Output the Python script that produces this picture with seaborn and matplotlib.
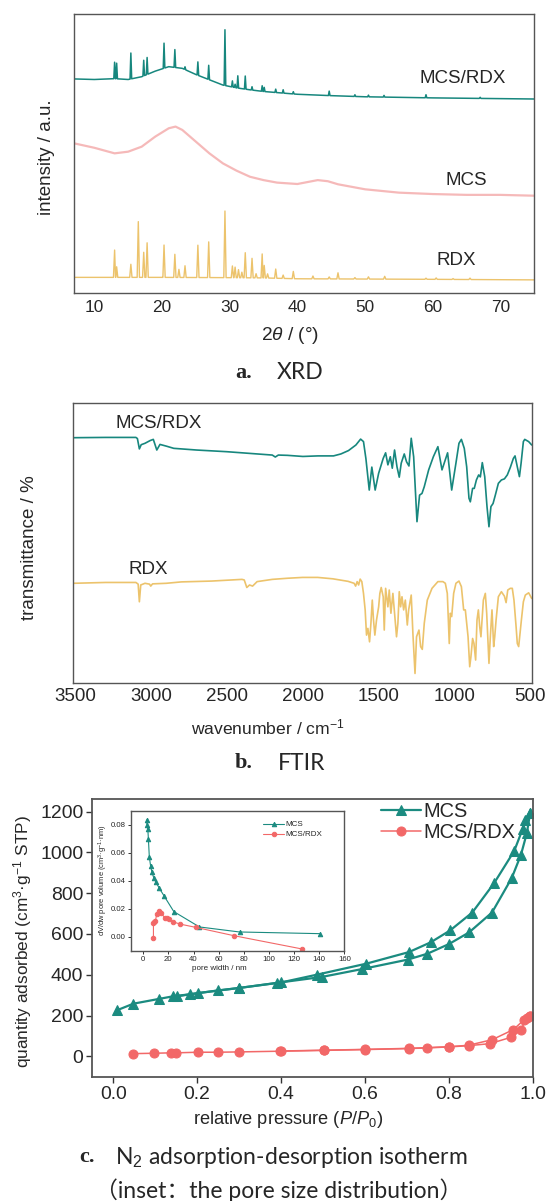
import numpy as np
import matplotlib
matplotlib.use('Agg')
import matplotlib.pyplot as plt
from matplotlib import font_manager as fm
import seaborn as sns

# ---------------- data ----------------
# a. XRD (arbitrary intensity units, stacked)
xrd_mcs_x = [7, 10, 13, 15, 17, 19, 21, 22, 23, 25, 27, 29, 31, 33, 35, 37, 40, 43, 44.5, 46, 50, 55, 60, 65, 70, 75]
xrd_mcs_y = [53.6, 52.0, 50.0, 50.6, 52.4, 56.0, 59.0, 59.6, 58.4, 54.2, 50.0, 46.4, 43.8, 41.6, 40.4, 39.5, 39.0, 40.4, 40.0, 38.9, 37.1, 35.9, 35.4, 35.1, 35.1, 34.8]

xrd_comp_base_x = [7, 10, 13, 15, 17, 19, 21, 23, 25, 27, 29, 31, 33, 35, 38, 40, 45, 50, 60, 75]
xrd_comp_base_y = [76.7, 76.5, 76.8, 76.5, 77.5, 79.5, 81.1, 80.5, 78.3, 76.4, 74.5, 73.5, 72.8, 72.2, 71.6, 71.2, 70.7, 70.3, 69.9, 69.5]
xrd_comp_pk = [13.0, 13.3, 15.4, 17.3, 17.8, 20.3, 21.9, 23.4, 25.3, 26.9, 29.3, 30.4, 30.8, 31.2, 32.3, 33.3,
               34.8, 35.1, 36.8, 37.9, 39.4, 44.7, 48.5, 50.5, 52.8, 59.0, 67.0]
xrd_comp_h = [5.9, 5.6, 9.3, 5.6, 6.1, 9.0, 6.4, 1.0, 4.8, 5.1, 20.0, 2.2, 1.2, 4.4, 4.7, 1.2,
              2.0, 1.5, 1.2, 1.2, 0.8, 1.6, 0.6, 0.6, 0.6, 1.1, 0.4]

xrd_rdx_base_x = [7, 12, 20, 30, 35, 40, 50, 60, 75]
xrd_rdx_base_y = [5.5, 5.5, 5.5, 5.4, 5.3, 5.0, 4.9, 4.8, 4.6]
xrd_rdx_pk = [13.0, 13.3, 15.4, 16.5, 17.3, 17.8, 20.3, 21.9, 22.5, 23.4, 25.3, 26.9, 29.3, 30.4, 30.8, 31.3,
              31.8, 32.3, 33.3, 33.9, 34.8, 35.1, 35.6, 36.8, 37.9, 39.4, 42.3, 44.7, 46.0, 48.5, 50.5, 52.9,
              59.0, 60.5, 63.0, 65.5]
xrd_rdx_h = [9.8, 3.8, 4.7, 20.0, 9.0, 12.4, 11.6, 8.3, 2.9, 4.2, 11.6, 12.8, 23.9, 4.2, 3.8, 2.9,
             2.0, 9.0, 7.0, 1.5, 8.6, 4.5, 1.5, 3.3, 1.2, 2.6, 1.0, 0.7, 2.2, 0.5, 0.8, 1.0,
             0.4, 0.5, 0.3, 0.5]

# b. FTIR (arbitrary transmittance units, stacked)
ir_comp_wn = [3513, 3300, 3100, 3090, 3077, 3065, 3040, 3005, 2985, 2962,
              2941, 2900, 2850, 2700, 2500, 2300, 2200, 2180, 2160, 2100,
              1998, 1899, 1796, 1747, 1697, 1648, 1617, 1598, 1582, 1560,
              1543, 1521, 1498, 1468, 1452, 1437, 1421, 1408, 1393, 1377,
              1362, 1349, 1329, 1314, 1298, 1283, 1267, 1245, 1228, 1212,
              1197, 1168, 1137, 1107, 1080, 1043, 1016, 988, 968, 952,
              933, 917, 902, 893, 878, 867, 853, 838, 827, 814,
              798, 783, 770, 757, 743, 728, 708, 688, 668, 649,
              629, 609, 598, 583, 569, 558, 543, 534, 508, 488]
ir_comp_t = [87.5, 87.6, 87.6, 87.2, 83.5, 85.0, 85.5, 86.5, 86.9, 83.1,
             85.1, 84.5, 83.7, 83.1, 82.5, 81.7, 81.3, 80.6, 81.3, 81.2,
             80.8, 81.0, 81.0, 81.7, 82.9, 84.9, 87.0, 86.1, 80.0, 68.8,
             77.0, 68.8, 74.8, 80.1, 82.1, 77.8, 80.7, 76.6, 83.1, 77.1,
             73.4, 78.4, 81.7, 78.9, 77.4, 87.3, 80.7, 57.5, 67.0, 67.6,
             70.0, 76.0, 80.7, 84.3, 76.0, 82.1, 68.8, 78.4, 85.5, 86.9,
             83.7, 77.1, 65.9, 64.6, 69.4, 69.4, 72.4, 74.2, 73.5, 78.6,
             73.6, 62.9, 55.7, 62.9, 64.0, 67.0, 71.2, 72.4, 72.8, 74.2,
             76.9, 80.1, 81.0, 77.1, 73.6, 78.4, 86.1, 86.9, 86.1, 84.9]

ir_rdx_wn = [3513, 3300, 3100, 3085, 3077, 3068, 3040, 3010, 3002, 2990,
             2900, 2800, 2600, 2400, 2385, 2368, 2350, 2330, 2300, 2200,
             2100, 2000, 1900, 1800, 1700, 1660, 1650, 1640, 1630, 1620,
             1609, 1598, 1587, 1578, 1569, 1558, 1549, 1540, 1532, 1523,
             1512, 1498, 1490, 1481, 1468, 1461, 1452, 1437, 1428, 1417,
             1404, 1380, 1371, 1362, 1353, 1344, 1333, 1322, 1309, 1300,
             1283, 1272, 1258, 1248, 1232, 1221, 1210, 1197, 1177, 1146,
             1107, 1074, 1058, 1045, 1032, 1025, 1016, 1003, 988, 968,
             952, 937, 926, 908, 897, 889, 878, 869, 858, 849,
             840, 831, 823, 807, 794, 785, 770, 761, 750, 739,
             732, 723, 708, 688, 668, 657, 646, 629, 616, 605,
             591, 583, 574, 565, 556, 543, 530, 508, 488]
ir_rdx_t = [35.5, 35.8, 35.8, 35.2, 28.9, 34.9, 35.5, 35.2, 34.5, 35.3,
            35.5, 36.0, 36.3, 36.9, 36.7, 34.0, 34.9, 34.5, 36.1, 36.9,
            37.3, 37.6, 37.6, 37.1, 36.2, 35.5, 34.5, 36.1, 34.9, 37.0,
            36.1, 31.9, 26.0, 17.0, 19.4, 14.6, 21.2, 29.5, 22.4, 17.0,
            22.4, 27.1, 31.9, 34.0, 30.7, 18.8, 33.7, 27.1, 33.1, 24.8,
            31.9, 16.4, 21.2, 32.5, 27.1, 30.7, 26.0, 29.5, 20.6, 26.0,
            31.3, 17.6, 3.3, 16.4, 18.8, 12.9, 11.9, 21.2, 29.5, 33.7,
            36.1, 36.1, 35.5, 31.9, 14.0, 24.8, 23.6, 31.9, 35.5, 36.3,
            34.3, 26.0, 26.0, 16.4, 5.7, 9.3, 15.8, 14.0, 8.1, 22.4,
            26.0, 20.0, 16.4, 29.5, 31.9, 24.8, 6.9, 16.4, 26.0, 12.9,
            16.4, 22.4, 30.7, 32.5, 30.9, 28.6, 33.1, 33.7, 33.7, 29.5,
            20.0, 14.0, 12.9, 17.6, 22.4, 28.9, 31.3, 32.1, 30.1]

# c. N2 isotherms
mcs_ads_p = [0.008, 0.048, 0.108, 0.142, 0.182, 0.25, 0.30, 0.39, 0.497, 0.594, 0.702, 0.749, 0.80, 0.848, 0.903, 0.950, 0.972, 0.986, 0.994]
mcs_ads_q = [225, 258, 281, 294, 304, 323, 335, 360, 389, 428, 474, 503, 550, 607, 705, 874, 988, 1094, 1195]
mcs_des_p = [0.994, 0.982, 0.976, 0.956, 0.908, 0.856, 0.803, 0.757, 0.705, 0.603, 0.485, 0.40, 0.30, 0.202, 0.152]
mcs_des_q = [1195, 1159, 1114, 1007, 849, 705, 617, 559, 511, 454, 400, 362, 335, 310, 294]
comp_ads_p = [0.046, 0.098, 0.138, 0.150, 0.202, 0.25, 0.30, 0.397, 0.503, 0.601, 0.705, 0.749, 0.80, 0.847, 0.898, 0.948, 0.972, 0.986, 0.994]
comp_ads_q = [13, 15, 17, 17, 20, 20, 21.5, 25, 29, 33, 38, 41, 46, 52, 62, 93, 131, 188, 199]
comp_des_p = [0.994, 0.980, 0.954, 0.904, 0.847, 0.80, 0.705, 0.601, 0.503, 0.40]
comp_des_q = [199, 180, 131, 82, 54, 47, 39, 34, 30, 26]

# inset: pore size distribution
psd_mcs_w = [2.6, 3.0, 3.6, 4.1, 4.8, 5.8, 6.8, 8.4, 10.0, 12.5, 16.5, 24.3, 44.7, 76.6, 140.4]
psd_mcs_v = [0.0836, 0.0800, 0.0774, 0.0697, 0.0574, 0.0509, 0.0466, 0.0420, 0.0392, 0.0351, 0.0293, 0.0180, 0.0070, 0.0034, 0.0022]
psd_comp_w = [8.1, 8.1, 8.5, 9.6, 10.7, 12.5, 14.4, 17.0, 18.6, 20.4, 23.5, 29.0, 41.8, 72.4, 126.0]
psd_comp_v = [-0.0012, 0.0096, 0.0108, 0.0110, 0.0161, 0.0185, 0.0168, 0.0137, 0.0132, 0.0125, 0.0108, 0.0091, 0.0067, 0.0007, -0.0087]

# ---------------- style ----------------
sns.set_theme(style='white')
names = {f.name for f in fm.fontManager.ttflist}
NARROW = 'Liberation Sans Narrow' if 'Liberation Sans Narrow' in names else 'Liberation Sans'
k = 1.0 if NARROW == 'Liberation Sans Narrow' else 0.9
plt.rcParams['font.family'] = [NARROW, 'DejaVu Sans']
plt.rcParams['mathtext.fontset'] = 'custom'
plt.rcParams['mathtext.rm'] = NARROW
plt.rcParams['mathtext.it'] = NARROW + ':italic'
plt.rcParams['mathtext.bf'] = NARROW + ':bold'

TEAL = '#17877e'
PINK = '#f29c9c'
YELLOW = '#ecc36c'
TEAL_C = '#1b8b80'
RED_C = '#f26868'
SPINE = '#555555'

W, H = 550, 1201
fig = plt.figure(figsize=(W / 100, H / 100), dpi=100)


def add_axes(l, t, r, b):
    return fig.add_axes([l / W, 1 - b / H, (r - l) / W, (b - t) / H])


def ftext(x, y, s, **kw):
    kw.setdefault('ha', 'center')
    kw.setdefault('va', 'center')
    fig.text(x / W, 1 - y / H, s, **kw)


def stick_trace(bx, by, pk, ph, w):
    # baseline points plus a narrow triangle for each reflection
    bx = np.asarray(bx, float)
    by = np.asarray(by, float)
    keep = [all(abs(x - p) > w for p in pk) for x in bx]
    xs = list(bx[keep])
    ys = list(by[keep])
    for p, h in zip(pk, ph):
        for dx, dh in ((-w, 0), (0, h), (w, 0)):
            xs.append(p + dx)
            ys.append(np.interp(p + dx, bx, by) + dh)
    order = np.argsort(xs, kind='stable')
    return np.array(xs)[order], np.array(ys)[order]


def frame(ax, lw=1.0):
    for s in ax.spines.values():
        s.set_visible(True)
        s.set_color(SPINE)
        s.set_linewidth(lw)


# ---------------- a. XRD ----------------
ax = add_axes(74, 14, 534.3, 292.7)
x, y = stick_trace(xrd_comp_base_x, xrd_comp_base_y, xrd_comp_pk, xrd_comp_h, 0.12)
sns.lineplot(x=x, y=y, ax=ax, color=TEAL, lw=1.1, estimator=None, sort=False)
sns.lineplot(x=xrd_mcs_x, y=xrd_mcs_y, ax=ax, color=PINK, lw=1.6, alpha=0.7, estimator=None, sort=False)
x, y = stick_trace(xrd_rdx_base_x, xrd_rdx_base_y, xrd_rdx_pk, xrd_rdx_h, 0.17)
sns.lineplot(x=x, y=y, ax=ax, color=YELLOW, lw=1.0, estimator=None, sort=False)
ax.set_xlim(7, 75)
ax.set_ylim(0, 100)
ax.set_xticks(range(10, 71, 10))
ax.set_yticks([])
ax.set_xlabel('')
ax.set_ylabel('')
ax.tick_params(axis='x', direction='in', length=3, width=0.8, color=SPINE, labelsize=13.8 * k, pad=5)
frame(ax)
ax.text(64.4, 76.9, 'MCS/RDX', ha='center', va='center', fontsize=15.0 * k)
ax.text(65.0, 40.4, 'MCS', ha='center', va='center', fontsize=15.0 * k)
ax.text(63.5, 11.4, 'RDX', ha='center', va='center', fontsize=15.0 * k)
ftext(46.7, 157, 'intensity / a.u.', rotation=90, fontsize=15.0 * k)
ftext(290, 336, '2$\\theta$ / (°)', fontsize=15.3 * k)
ftext(235, 373, 'a.', ha='left', family='Liberation Serif', weight='bold', fontsize=16)
ftext(277, 373, 'XRD', ha='left', family='Lato', fontsize=16.5)

# ---------------- b. FTIR ----------------
ax = add_axes(73.3, 402.7, 531.7, 682.7)
sns.lineplot(x=ir_comp_wn, y=ir_comp_t, ax=ax, color=TEAL, lw=1.2, estimator=None, sort=False)
sns.lineplot(x=ir_rdx_wn, y=ir_rdx_t, ax=ax, color=YELLOW, lw=1.2, estimator=None, sort=False)
ax.set_xlim(3513, 488)
ax.set_ylim(0, 100)
ax.set_xticks([3500, 3000, 2500, 2000, 1500, 1000, 500])
ax.set_yticks([])
ax.set_xlabel('')
ax.set_ylabel('')
ax.tick_params(axis='x', direction='in', length=3, width=0.8, color=SPINE, labelsize=15 * k, pad=4)
frame(ax)
ax.text(2952, 92.6, 'MCS/RDX', ha='center', va='center', fontsize=15.0 * k)
ax.text(3018, 40.5, 'RDX', ha='center', va='center', fontsize=15.0 * k)
ftext(29.3, 548, 'transmittance / %', rotation=90, fontsize=15.0 * k)
ftext(268, 727, 'wavenumber / cm$^{-1}$', fontsize=14.0 * k)
ftext(235, 763, 'b.', ha='left', family='Liberation Serif', weight='bold', fontsize=16)
ftext(278, 763, 'FTIR', ha='left', family='Lato', fontsize=16.5)

# ---------------- c. N2 isotherm ----------------
ax = add_axes(92.3, 799.3, 532.7, 1076.7)
sns.lineplot(x=mcs_ads_p, y=mcs_ads_q, ax=ax, color=TEAL_C, lw=1.6, marker='^', markersize=7.5,
             markeredgecolor=TEAL_C, estimator=None, sort=False, label='MCS')
sns.lineplot(x=mcs_des_p, y=mcs_des_q, ax=ax, color=TEAL_C, lw=1.6, marker='^', markersize=7.5,
             markeredgecolor=TEAL_C, estimator=None, sort=False)
sns.lineplot(x=comp_ads_p, y=comp_ads_q, ax=ax, color=RED_C, lw=1.1, marker='o', markersize=6.5,
             markeredgecolor=RED_C, estimator=None, sort=False, label='MCS/RDX')
sns.lineplot(x=comp_des_p, y=comp_des_q, ax=ax, color=RED_C, lw=1.1, marker='o', markersize=6.5,
             markeredgecolor=RED_C, estimator=None, sort=False)
ax.set_xlim(-0.05, 1.0)
ax.set_ylim(-100, 1260)
ax.set_xticks([0.0, 0.2, 0.4, 0.6, 0.8, 1.0])
ax.set_xticklabels(['0.0', '0.2', '0.4', '0.6', '0.8', '1.0'])
ax.set_yticks(range(0, 1201, 200))
ax.set_xlabel('')
ax.set_ylabel('')
ax.tick_params(axis='both', direction='out', length=4, width=1.0, color='#333333', labelsize=15.5 * k, pad=2.5)
ax.tick_params(axis='both', which='both', bottom=True, left=True)
frame(ax, lw=1.3)
ax.legend(loc='upper left', bbox_to_anchor=((381 - 92.3) / 440.4, 0.99), frameon=False,
          fontsize=16 * k, handlelength=2.0, handletextpad=0.1, labelspacing=0.1,
          borderpad=0, borderaxespad=0)
ftext(23, 942, 'quantity adsorbed (cm$^3$·g$^{-1}$ STP)', rotation=90, fontsize=13.8 * k)
ftext(288, 1120, 'relative pressure ($P$/$P_0$)', fontsize=14.6 * k)
ftext(79, 1157, 'c.', ha='left', family='Liberation Serif', weight='bold', fontsize=16)
ftext(115, 1157, 'N$_2$ adsorption-desorption isotherm', ha='left', family='Lato', fontsize=16.5)
ftext(95, 1190, '（inset：the pore size distribution）', ha='left',
      family=['Lato', 'Noto Sans CJK SC'], fontsize=16.5)

# inset
ins = add_axes(130.7, 811, 344.3, 950.7)
sns.lineplot(x=psd_mcs_w, y=psd_mcs_v, ax=ins, color=TEAL_C, lw=0.8, marker='^', markersize=3.2,
             markeredgecolor=TEAL_C, estimator=None, sort=False, label='MCS')
sns.lineplot(x=psd_comp_w, y=psd_comp_v, ax=ins, color=RED_C, lw=0.8, marker='o', markersize=3.2,
             markeredgecolor=RED_C, estimator=None, sort=False, label='MCS/RDX')
ins.set_xlim(-10, 160)
ins.set_ylim(-0.01, 0.09)
ins.set_xticks(range(0, 161, 20))
ins.set_yticks([0.0, 0.02, 0.04, 0.06, 0.08])
ins.set_yticklabels(['0.00', '0.02', '0.04', '0.06', '0.08'])
ins.set_xlabel('')
ins.set_ylabel('')
ins.tick_params(axis='both', direction='out', length=2, width=0.7, color='#333333', labelsize=6.2 * k, pad=1.5)
ins.tick_params(axis='both', which='both', bottom=True, left=True)
frame(ins, lw=1.0)
ins.legend(loc='upper left', bbox_to_anchor=(0.621, 0.93), frameon=False, fontsize=6.4 * k,
           handlelength=2.6, handletextpad=0.2, labelspacing=0.3, borderpad=0, borderaxespad=0)
ftext(103.3, 880, 'dV/dw pore volume (cm$^3$·g$^{-1}$·nm)', rotation=90, fontsize=6.0 * k)
ftext(219.3, 969, 'pore width / nm', fontsize=6.4 * k)

fig.savefig('out.png', dpi=100)
